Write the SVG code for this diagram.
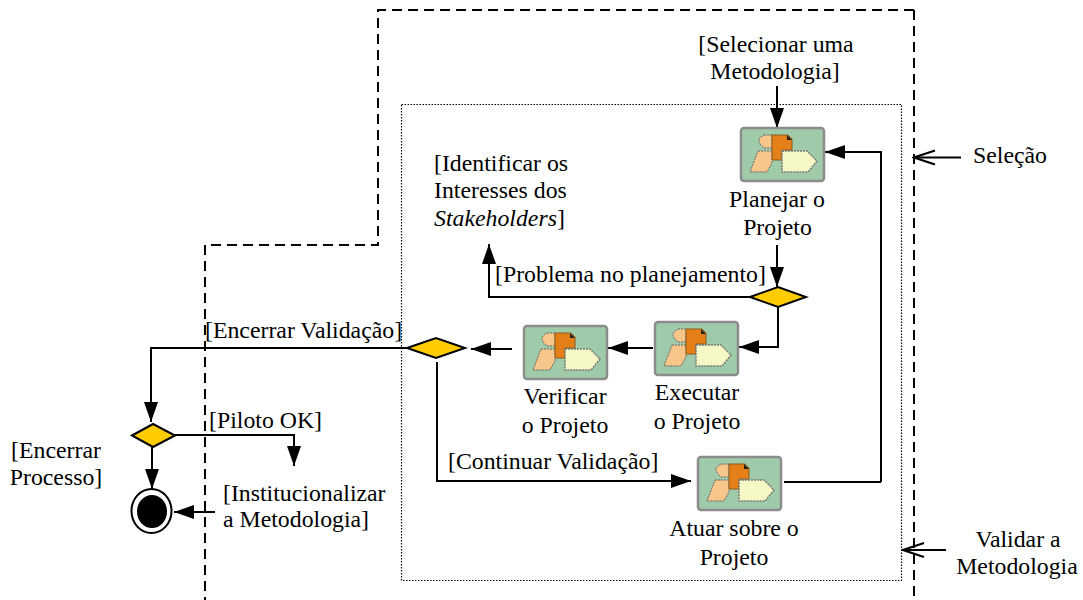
<svg xmlns="http://www.w3.org/2000/svg" width="1083" height="600" viewBox="0 0 1083 600">
<style>
text{font-family:"Liberation Serif","Times New Roman",serif;font-size:23.800px;fill:#000}
.m{text-anchor:middle}
.c{fill:none;stroke:#000;stroke-width:2}
.d{fill:none;stroke:#000;stroke-width:2;stroke-dasharray:10 6}
.dia{fill:#ffcc00;stroke:#000;stroke-width:2}
</style>
<defs>
<marker id="a" markerUnits="userSpaceOnUse" markerWidth="22" markerHeight="14" refX="20" refY="7" orient="auto"><path d="M0 0L20 7L0 14Z" fill="#000"/></marker>
<marker id="o" markerUnits="userSpaceOnUse" markerWidth="24" markerHeight="20" refX="22" refY="10" orient="auto"><path d="M1 3L22 10L1 17" fill="none" stroke="#000" stroke-width="2"/></marker>
<g id="icon">
<rect x="0" y="0" width="83" height="53" rx="3" fill="#9fcbaa" stroke="#8c8c8c" stroke-width="2.500"/>
<path d="M23 7h8v13h-8l-3-3q-4-5 0-8Z" fill="#f6c68b" stroke="#666" stroke-width="1" stroke-dasharray="2 1"/>
<path d="M17 23h14v12l-5 9H9Z" fill="#f6c68b" stroke="#666" stroke-width="1" stroke-dasharray="2 1"/>
<path d="M31 7h16l4 4v11H41v10H31Z" fill="#e58019" stroke="#8a5a20" stroke-width="1"/>
<path d="M46 7l5 5h-5Z" fill="#222"/>
<path d="M41 23h25l10 10-9 11H41Z" fill="#f5f7c5" stroke="#777" stroke-width="1.500" stroke-dasharray="2 1"/>
</g>
</defs>

<g id="swimlanes">
<path class="d" d="M914 10H378V245H205V600"/>
<path class="d" d="M914 10V600"/>
<rect x="401.500" y="104.500" width="500" height="476" fill="none" stroke="#000" stroke-width="1.200" stroke-dasharray="1.500 1.500"/>
</g>

<g id="connectors">
<path class="c" marker-end="url(#a)" d="M777 86V128"/>
<path class="c" marker-end="url(#a)" d="M881 482V152H825"/>
<path class="c" d="M784 482H881"/>
<path class="c" marker-end="url(#a)" d="M777 245V287"/>
<path class="c" marker-end="url(#a)" d="M750 297H489V244"/>
<path class="c" marker-end="url(#a)" d="M778 307V347H739"/>
<path class="c" marker-end="url(#a)" d="M653 348H608"/>
<path class="c" marker-end="url(#a)" d="M512 349H471"/>
<path class="c" marker-end="url(#a)" d="M407 348H151V422"/>
<path class="c" marker-end="url(#a)" d="M437 362V481H691"/>
<path class="c" marker-end="url(#a)" d="M175 435H294V466"/>
<path class="c" marker-end="url(#a)" d="M152 446V489"/>
<path class="c" marker-end="url(#a)" d="M215 512H174"/>
<path class="c" marker-end="url(#o)" d="M961 157.500H914"/>
<path class="c" marker-end="url(#o)" d="M946 550H903"/>
</g>

<g id="n-planejar"><use href="#icon" x="741" y="128"/><text class="m" x="777" y="207">Planejar o</text><text class="m" x="777.500" y="235">Projeto</text></g>
<g id="n-executar"><use href="#icon" x="655" y="322"/><text class="m" x="697" y="400">Executar</text><text class="m" x="697" y="429">o Projeto</text></g>
<g id="n-verificar"><use href="#icon" x="524" y="326"/><text class="m" x="565" y="404">Verificar</text><text class="m" x="565" y="433">o Projeto</text></g>
<g id="n-atuar"><use href="#icon" x="698" y="457"/><text class="m" x="734" y="536">Atuar sobre o</text><text class="m" x="734" y="565">Projeto</text></g>

<g id="d-planejamento"><path class="dia" d="M750 297L778 287L806 297L778 307Z"/></g>
<g id="d-validacao"><path class="dia" d="M407 348L436 338L465 348L436 358Z"/></g>
<g id="d-processo"><path class="dia" d="M132 435.500L153 424L175 435.500L153 447Z"/></g>
<g id="n-fim"><ellipse cx="151.500" cy="511" rx="20" ry="22" fill="#fff" stroke="#000" stroke-width="2"/><ellipse cx="152" cy="511.500" rx="15" ry="16.500" fill="#000"/></g>

<g id="labels">
<text class="m" x="776" y="52">[Selecionar uma</text>
<text class="m" x="775" y="79">Metodologia]</text>
<text x="434" y="171">[Identificar os</text>
<text x="434" y="198">Interesses dos</text>
<text x="434" y="226"><tspan font-style="italic">Stakeholders</tspan>]</text>
<text x="495" y="282">[Problema no planejamento]</text>
<text x="205" y="338">[Encerrar Validação]</text>
<text x="448" y="469">[Continuar Validação]</text>
<text x="209" y="428">[Piloto OK]</text>
<text x="223" y="501">[Institucionalizar</text>
<text x="223" y="527">a Metodologia]</text>
<text class="m" x="56" y="458">[Encerrar</text>
<text class="m" x="56" y="485">Processo]</text>
<text x="973" y="163">Seleção</text>
<text class="m" x="1018" y="547">Validar a</text>
<text class="m" x="1017" y="574">Metodologia</text>
</g>
</svg>
